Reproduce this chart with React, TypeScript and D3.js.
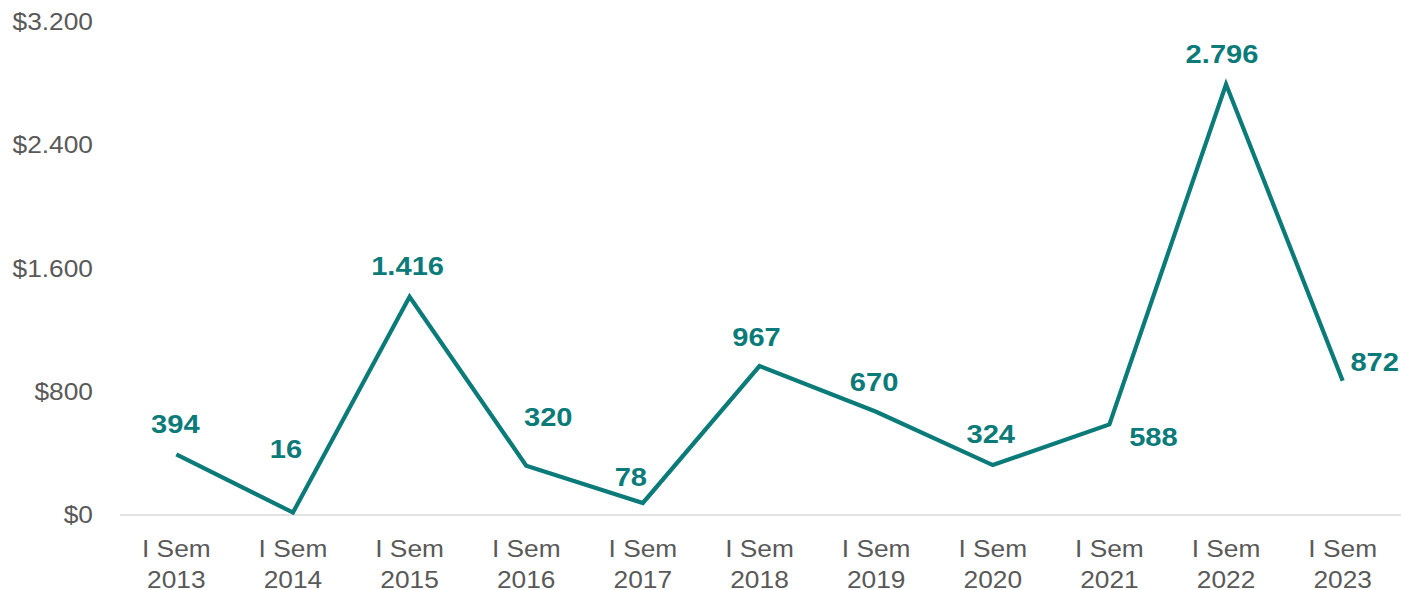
import React, { useRef, useEffect } from "react";
import * as d3 from "d3";

const categories = [
  "I Sem 2013",
  "I Sem 2014",
  "I Sem 2015",
  "I Sem 2016",
  "I Sem 2017",
  "I Sem 2018",
  "I Sem 2019",
  "I Sem 2020",
  "I Sem 2021",
  "I Sem 2022",
  "I Sem 2023",
];
const values = [394, 16, 1416, 320, 78, 967, 670, 324, 588, 2796, 872];
const yTicks = [0, 800, 1600, 2400, 3200];

// manual label placement (dx, dy of baseline from the point), as in the original
const labelOffsets: [number, number][] = [
  [-1, -21],
  [-7, -55],
  [-2, -22],
  [22, -40],
  [-12, -17],
  [-3, -20],
  [-2, -21],
  [-2, -22],
  [44, 22],
  [-4, -21],
  [32, -10],
];

const W = 1401;
const H = 590;
const teal = "#0B7B79";
const gray = "#595959";
const stretch = 1.12; // the source text is slightly wide

const fmt = (v: number) => {
  const s = String(v);
  return s.length > 3 ? s.slice(0, s.length - 3) + "." + s.slice(-3) : s;
};

const App = () => {
  const svgRef = useRef<SVGSVGElement>(null);

  useEffect(() => {
    const svg = d3.select(svgRef.current);
    svg.selectAll("*").remove();

    const x = d3.scaleBand().domain(categories).range([118, 1401]);
    const y = d3.scaleLinear().domain([0, 3200]).range([515, 22]);
    const cx = (c: string) => (x(c) ?? 0) + x.bandwidth() / 2;

    // y tick labels
    svg
      .append("g")
      .selectAll("text")
      .data(yTicks)
      .enter()
      .append("text")
      .attr("transform", (d) => `translate(93,${y(d)}) scale(${stretch},1)`)
      .attr("dy", "0.35em")
      .attr("text-anchor", "end")
      .style("font-family", "Liberation Sans, Arial, sans-serif")
      .style("font-size", "23.5px")
      .style("fill", gray)
      .text((d) => "$" + fmt(d));

    // baseline
    svg
      .append("line")
      .attr("x1", 120)
      .attr("x2", 1401)
      .attr("y1", y(0))
      .attr("y2", y(0))
      .style("stroke", "#D9D9D9")
      .style("stroke-width", 1.5);

    // x labels (two lines)
    const xl = svg
      .append("g")
      .selectAll("g")
      .data(categories)
      .enter()
      .append("g")
      .attr("transform", (d) => `translate(${cx(d)},0)`);
    [0, 1].forEach((line) => {
      xl.append("text")
        .attr("transform", `translate(0,${557 + line * 31}) scale(${stretch},1)`)
        .attr("text-anchor", "middle")
        .style("font-family", "Liberation Sans, Arial, sans-serif")
        .style("font-size", "23.5px")
        .style("fill", gray)
        .text((d) => (line === 0 ? d.slice(0, 5) : d.slice(6)));
    });

    // line
    const lineGen = d3
      .line<number>()
      .x((d, i) => cx(categories[i]))
      .y((d) => y(d));
    svg
      .append("path")
      .attr("d", lineGen(values))
      .style("fill", "none")
      .style("stroke", teal)
      .style("stroke-width", 4.2)
      .style("stroke-linejoin", "miter");

    // data labels
    svg
      .append("g")
      .selectAll("text")
      .data(values)
      .enter()
      .append("text")
      .attr(
        "transform",
        (d, i) =>
          `translate(${cx(categories[i]) + labelOffsets[i][0]},${y(d) + labelOffsets[i][1]}) scale(${stretch},1)`
      )
      .attr("text-anchor", "middle")
      .style("font-family", "Liberation Sans, Arial, sans-serif")
      .style("font-size", "26px")
      .style("font-weight", "bold")
      .style("fill", teal)
      .text((d) => fmt(d));
  }, []);

  return (
    <svg
      ref={svgRef}
      width={W}
      height={H}
      style={{ position: "absolute", left: 0, top: 0, background: "#fff" }}
    />
  );
};

export default App;
